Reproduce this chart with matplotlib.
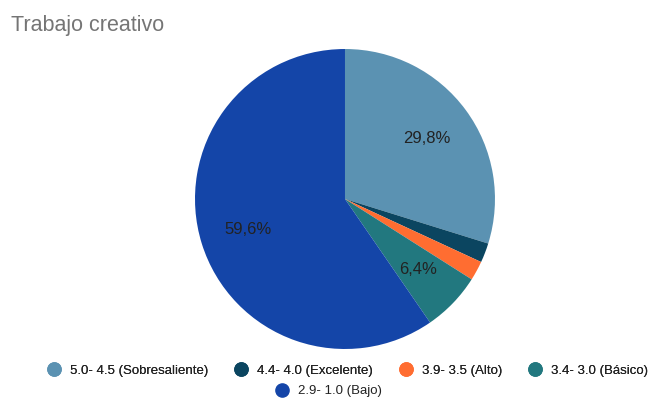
import matplotlib
matplotlib.use('Agg')
import matplotlib.pyplot as plt
from matplotlib.lines import Line2D

plt.rcParams['font.family'] = ['Liberation Sans', 'DejaVu Sans']

categories = ['5.0- 4.5 (Sobresaliente)', '4.4- 4.0 (Excelente)', '3.9- 3.5 (Alto)',
              '3.4- 3.0 (Básico)', '2.9- 1.0 (Bajo)']
values = [29.8, 2.1, 2.1, 6.4, 59.6]
colors = ['#5B92B2', '#0B4560', '#FF6D31', '#22787F', '#1445A8']

fig = plt.figure(figsize=(6.5, 4.0), dpi=100)
ax = fig.add_axes([0.300, 0.1275, 0.4615, 0.75])


def fmt(p):
    return ('%.1f%%' % p).replace('.', ',') if p > 5 else ''


ax.pie(values, colors=colors, startangle=90, counterclock=False,
       autopct=fmt, pctdistance=0.68,
       textprops={'fontsize': 12, 'color': '#222222'},
       wedgeprops={'linewidth': 0})
ax.set_xlim(-1, 1)
ax.set_ylim(-1, 1)
ax.set_aspect('equal')

fig.text(0.017, 0.937, 'Trabajo creativo', fontsize=15.5, color='#757575',
         ha='left', va='center')

handles = [Line2D([], [], marker='o', linestyle='', markersize=9.5,
                  markerfacecolor=c, markeredgecolor=c) for c in colors]
leg1 = fig.legend(handles[:4], categories[:4], loc='center', ncol=4,
                  bbox_to_anchor=(0.53, 0.073), frameon=False, fontsize=9.5,
                  handletextpad=0.2, columnspacing=1.5, labelcolor='#222222')
fig.add_artist(leg1)
fig.legend(handles[4:], categories[4:], loc='center', ncol=1,
           bbox_to_anchor=(0.5, 0.022), frameon=False, fontsize=9.5,
           handletextpad=0.2, labelcolor='#222222')

fig.savefig('out.png', dpi=100)
